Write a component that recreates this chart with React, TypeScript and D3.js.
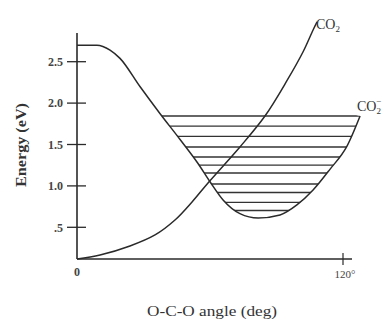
import React from "react";
import * as d3 from "d3";

// O-C-O angle (deg) vs energy (eV) for the curve that ends at the hatched well (CO2-)
const wellAngle = [0, 9, 14.9, 19.4, 28.4, 37.4, 46.5, 54.6, 60.0, 65.9, 73.5, 81.7, 91.6, 99.2, 106.5, 114.1, 121.8, 127.7];
const wellEnergy = [2.70, 2.70, 2.64, 2.54, 2.20, 1.875, 1.56, 1.27, 1.05, 0.83, 0.665, 0.612, 0.649, 0.77, 0.95, 1.2, 1.48, 1.844];

// rising curve (CO2)
const riseAngle = [0, 10.4, 23.9, 35.2, 44.2, 51.9, 59.1, 73.5, 84.8, 94.7, 102.0, 106.5, 108.3];
const riseEnergy = [0, 0.063, 0.205, 0.379, 0.588, 0.806, 1.035, 1.47, 1.844, 2.27, 2.62, 2.883, 2.98];

// vibrational levels drawn as hatch lines
const levels = [1.844, 1.723, 1.597, 1.470, 1.349, 1.252, 1.156, 1.023, 0.920, 0.800, 0.703];

const yTicks = [0.5, 1.0, 1.5, 2.0, 2.5];
const yTickLabels = [".5", "1.0", "1.5", "2.0", "2.5"];
const xTickLabels = ["0", "120°"];
const xTicks = [0, 120];

export default function App() {
  const W = 389, H = 319;
  const x = d3.scaleLinear().domain([0, 120]).range([77, 343]);
  const y = d3.scaleLinear().domain([0, 0.5, 2.5]).range([259, 227.3, 61.7]);

  const wellLine = d3
    .line<[number, number]>()
    .x((d) => x(d[0]))
    .y((d) => y(d[1]))
    .curve(d3.curveMonotoneX);
  const riseLine = d3
    .line<[number, number]>()
    .x((d) => x(d[0]))
    .y((d) => y(d[1]))
    .curve(d3.curveCatmullRom.alpha(0.5));

  const wellPts: [number, number][] = wellAngle.map((a, i) => [a, wellEnergy[i]]);
  const risePts: [number, number][] = riseAngle.map((a, i) => [a, riseEnergy[i]]);
  const wellPath = wellLine(wellPts) || "";
  const risePath = riseLine(risePts) || "";

  const font = "'Liberation Serif', 'DejaVu Serif', serif";
  const ink = "#2a2a2a";

  return (
    <div style={{ position: "fixed", left: 0, top: 0 }}>
      <svg width={W} height={H} style={{ display: "block", background: "#fff" }} fontFamily={font}>
        <defs>
          <clipPath id="well">
            <path d={wellPath + "Z"} />
          </clipPath>
        </defs>

        {/* hatch lines */}
        <g clipPath="url(#well)">
          {levels.map((e, i) => (
            <line key={i} x1={x(0)} x2={x(135)} y1={y(e)} y2={y(e)} stroke="#333" strokeWidth={1.3} />
          ))}
        </g>

        {/* axes */}
        <line x1={x(0)} x2={x(0)} y1={33} y2={y(0)} stroke={ink} strokeWidth={1.6} />
        <line x1={x(0)} x2={352} y1={y(0)} y2={y(0)} stroke={ink} strokeWidth={1.6} />
        {yTicks.map((t, i) => (
          <g key={i}>
            <line x1={67} x2={86} y1={y(t)} y2={y(t)} stroke={ink} strokeWidth={1.3} />
            <text x={63} y={y(t)} dy="0.35em" textAnchor="end" fontSize={12} fontWeight="bold" fill="#444">
              {yTickLabels[i]}
            </text>
          </g>
        ))}
        <line x1={x(120)} x2={x(120)} y1={253} y2={265} stroke={ink} strokeWidth={1.2} />
        <text x={x(xTicks[0])} y={272} dy="0.35em" textAnchor="middle" fontSize={12} fontWeight="bold" fill="#444">
          {xTickLabels[0]}
        </text>
        <text x={x(xTicks[1]) + 2} y={274} dy="0.35em" textAnchor="middle" fontSize={11} fill="#444">
          {xTickLabels[1]}
        </text>

        {/* curves */}
        <path d={wellPath} fill="none" stroke={ink} strokeWidth={1.5} />
        <path d={risePath} fill="none" stroke={ink} strokeWidth={1.5} />

        {/* curve labels */}
        <text x={316} y={29} fontSize={14} fill="#333">
          CO<tspan fontSize={9} dy={3}>2</tspan>
        </text>
        <text x={357} y={111} fontSize={14} fill="#333">
          CO<tspan fontSize={9} dy={3}>2</tspan><tspan fontSize={9} dx={-5} dy={-10}>−</tspan>
        </text>

        {/* axis titles */}
        <text
          transform={`translate(26,145) rotate(-90)`}
          textAnchor="middle"
          fontSize={15}
          fontWeight="bold"
          fill="#333"
          textLength={84}
          lengthAdjust="spacingAndGlyphs"
        >
          Energy (eV)
        </text>
        <text x={147} y={316} fontSize={14} fill="#333" textLength={130} lengthAdjust="spacingAndGlyphs">
          O-C-O angle (deg)
        </text>
      </svg>
    </div>
  );
}
